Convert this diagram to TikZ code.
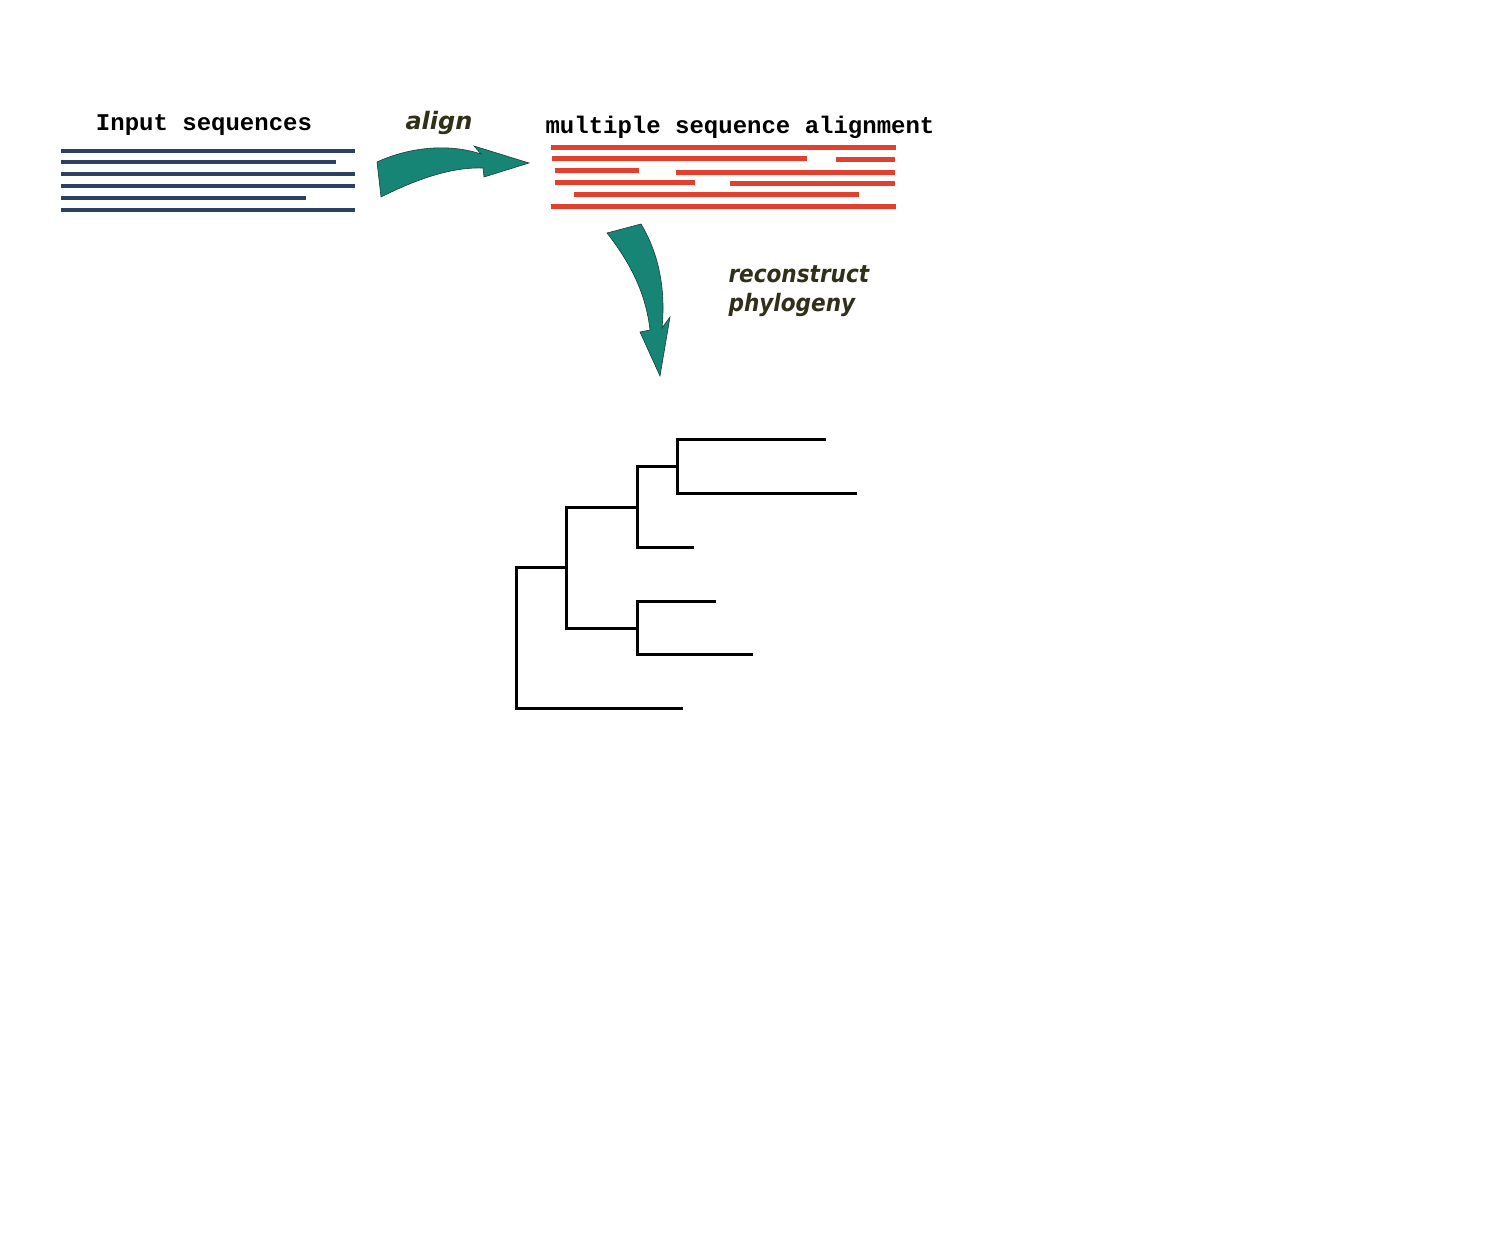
\documentclass[tikz,border=0pt]{standalone}
\usepackage{fontspec}
\newfontfamily\seqfont{Liberation Mono}
\newfontfamily\stepfont{DejaVu Sans}
\newfontfamily\stepcondfont{DejaVu Sans}[FakeStretch=0.9]
\definecolor{seqblue}{RGB}{44,65,98}
\definecolor{alnred}{RGB}{224,64,45}
\definecolor{arrowteal}{RGB}{23,133,117}
\definecolor{arrowedge}{RGB}{30,60,55}
\definecolor{steptext}{RGB}{48,48,26}
\tikzset{
  title/.style={font=\seqfont\bfseries\fontsize{24}{29}\selectfont, anchor=base},
  steplabel/.style={text=steptext, anchor=base west},
  inseq/.style={draw=seqblue, line width=4pt},
  alnseq/.style={draw=alnred, line width=5pt},
  bigarrow/.style={fill=arrowteal, draw=arrowedge, line width=0.6pt},
  branch/.style={draw=black, line width=3pt}
}
\begin{document}
\begin{tikzpicture}[x=1pt,y=-1pt]
\useasboundingbox (0,0) rectangle (1489,1241);
\node[title] (inlabel) at (204,131) {Input sequences};
\node[title] (alnlabel) at (740,134) {multiple sequence alignment};
\node[steplabel, anchor=base, font=\stepfont\bfseries\itshape\fontsize{24}{29}\selectfont] (alignlabel) at (439,130) {align};
\node[steplabel, font=\stepcondfont\bfseries\itshape\fontsize{24}{29}\selectfont] (reconlabel) at (725,283) {reconstruct};
\node[steplabel, font=\stepcondfont\bfseries\itshape\fontsize{24}{29}\selectfont] (phylolabel) at (725,312) {phylogeny};
\draw [inseq] (61,151) -- (355,151);
\draw [inseq] (61,162) -- (336,162);
\draw [inseq] (61,174) -- (355,174);
\draw [inseq] (61,186) -- (355,186);
\draw [inseq] (61,198) -- (306,198);
\draw [inseq] (61,210) -- (355,210);
\draw [alnseq] (551,148) -- (896,148);
\draw [alnseq] (552,159) -- (807,159);
\draw [alnseq] (836,160) -- (895,160);
\draw [alnseq] (555,171) -- (639,171);
\draw [alnseq] (676,173) -- (895,173);
\draw [alnseq] (555,183) -- (695,183);
\draw [alnseq] (730,184) -- (895,184);
\draw [alnseq] (574,195) -- (859,195);
\draw [alnseq] (551,207) -- (896,207);
\draw [bigarrow] (377,162) .. controls (405,149) and (445,142) .. (481,154)
  -- (474,146) -- (529,163) -- (484,177) -- (483,168)
  .. controls (450,167) and (415,180) .. (381,197) -- cycle;
\draw [bigarrow] (607,233) -- (641,224) .. controls (658,252) and (666,288) .. (662,328)
  -- (670,317) -- (660,376) -- (640,332) -- (650,330)
  .. controls (646,295) and (632,265) .. (607,233) -- cycle;
\coordinate (root) at (516,637);
\coordinate (A) at (566,567);
\coordinate (B) at (637,507);
\coordinate (C) at (637,628);
\coordinate (D) at (677,466);
\coordinate (t1) at (826,439);
\coordinate (t2) at (857,493);
\coordinate (t3) at (694,547);
\coordinate (t4) at (716,601);
\coordinate (t5) at (753,654);
\coordinate (t6) at (683,708);
\draw [branch] (root) |- (A);
\draw [branch] (root) |- (t6);
\draw [branch] (A) |- (B);
\draw [branch] (A) |- (C);
\draw [branch] (B) |- (D);
\draw [branch] (B) |- (t3);
\draw [branch] (D) |- (t1);
\draw [branch] (D) |- (t2);
\draw [branch] (C) |- (t4);
\draw [branch] (C) |- (t5);
\end{tikzpicture}
\end{document}
